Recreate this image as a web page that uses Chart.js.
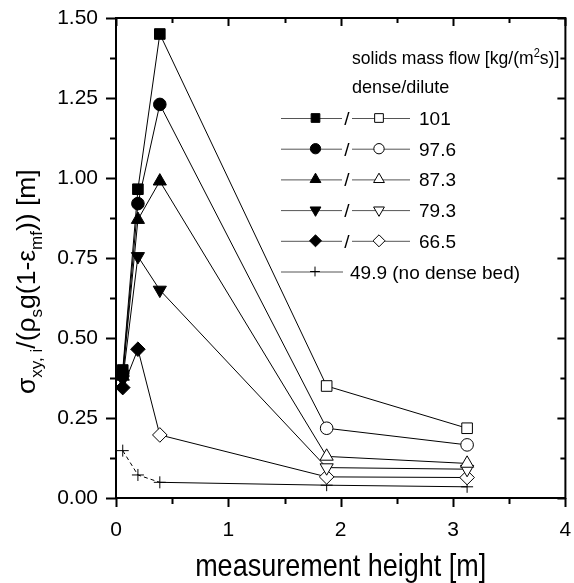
<!DOCTYPE html>
<html>
<head>
<meta charset="utf-8">
<script src="https://cdn.jsdelivr.net/npm/chart.js@4.4.1/dist/chart.umd.min.js"></script>
<style>
  html, body { margin: 0; padding: 0; background: #fff; }
  canvas { display: block; }
</style>
</head>
<body>
<canvas id="chart" width="574" height="583"></canvas>
<script>
// measurement heights [m]
const heights = [0.06, 0.195, 0.39, 1.875, 3.125];

// solids mass flow [kg/(m2 s)] for each curve
const flowLabels = ['101', '97.6', '87.3', '79.3', '66.5', '49.9 (no dense bed)'];

// sigma_xy,i / (rho_s g (1-eps_mf)) [m] at each height
const flow101 = [0.40, 0.965, 1.45, 0.35, 0.218];
const flow976 = [0.39, 0.92, 1.23, 0.218, 0.166];
const flow873 = [0.38, 0.87, 0.99, 0.13, 0.108];
const flow793 = [0.37, 0.755, 0.65, 0.095, 0.09];
const flow665 = [0.345, 0.465, 0.197, 0.066, 0.064];
const flow499 = [0.148, 0.072, 0.049, 0.04, 0.035];

// number of points (from the bottom) that are inside the dense bed
const denseCount = [3, 3, 3, 3, 2, 0];

// axis ticks
const xTicks = [0, 1, 2, 3, 4];
const yTicks = [0, 0.25, 0.5, 0.75, 1.0, 1.25, 1.5];

const FONT = "'Liberation Sans', Arial, Helvetica, sans-serif";
Chart.defaults.font.family = FONT;
Chart.defaults.color = '#000';

const seriesValues = [flow101, flow976, flow873, flow793, flow665, flow499];
const markerStyle = ['rect', 'circle', 'triangle', 'triangle', 'rectRot', 'cross'];
const markerRotation = [0, 0, 0, 180, 0, 0];
const markerRadius = [7.5, 6.3, 7.6, 7.6, 7.3, 6];

const datasets = seriesValues.map((vals, i) => ({
    label: flowLabels[i],
    data: heights.map((h, j) => ({ x: h, y: vals[j] })),
    showLine: true,
    borderColor: '#000',
    borderWidth: 1,
    pointStyle: markerStyle[i],
    rotation: markerRotation[i],
    pointRadius: markerRadius[i],
    pointHoverRadius: markerRadius[i],
    pointBorderColor: '#000',
    pointBorderWidth: 1,
    pointBackgroundColor: heights.map((h, j) => j < denseCount[i] ? '#000' : '#fff'),
    // dashed line between the points of the run without a dense bed
    segment: i === 5 ? { borderDash: ctx => ctx.p1DataIndex <= 2 ? [4, 3] : undefined } : {}
}));

// frame + inner/outer ticks like the original plot
const framePlugin = {
    id: 'frame',
    afterDatasetsDraw(chart) {
        const ctx = chart.ctx;
        const a = chart.chartArea;
        const xs = chart.scales.x, ys = chart.scales.y;
        ctx.save();
        ctx.strokeStyle = '#000';
        ctx.lineWidth = 2;
        ctx.strokeRect(a.left, a.top, a.right - a.left, a.bottom - a.top);
        ctx.beginPath();
        for (let v = xTicks[0]; v <= xTicks[xTicks.length - 1] + 1e-9; v += 0.5) {
            const major = xTicks.includes(v);
            const px = Math.round(xs.getPixelForValue(v)) + 0.5;
            ctx.moveTo(px, a.bottom); ctx.lineTo(px, a.bottom + (major ? 9 : 6));
            ctx.moveTo(px, a.top); ctx.lineTo(px, a.top + (major ? 8 : 5));
        }
        for (let v = yTicks[0]; v <= yTicks[yTicks.length - 1] + 1e-9; v += 0.125) {
            const major = yTicks.some(t => Math.abs(t - v) < 1e-9);
            const py = Math.round(ys.getPixelForValue(v)) + 0.5;
            ctx.moveTo(a.left, py); ctx.lineTo(a.left - (major ? 10 : 6), py);
            ctx.moveTo(a.right, py); ctx.lineTo(a.right - (major ? 8 : 5), py);
        }
        ctx.stroke();
        ctx.restore();
    }
};

// draws text pieces with sub/superscripts, returns end x
function drawRich(ctx, pieces, x, y, size) {
    pieces.forEach(p => {
        const s = p.sub || p.sup ? Math.round(size * 0.65) : size;
        ctx.font = s + 'px ' + FONT;
        const dy = p.sub ? size * 0.25 : (p.sup ? -size * 0.38 : 0);
        ctx.fillText(p.t, x, y + dy);
        x += ctx.measureText(p.t).width;
    });
    return x;
}

const titlePlugin = {
    id: 'titles',
    afterDraw(chart) {
        const ctx = chart.ctx;
        const a = chart.chartArea;
        ctx.save();
        ctx.fillStyle = '#000';
        ctx.textBaseline = 'alphabetic';
        // x title (original lettering is a bit taller than Arial)
        ctx.save();
        ctx.font = '27px ' + FONT;
        ctx.textAlign = 'center';
        ctx.translate((a.left + a.right) / 2, 576);
        ctx.scale(1, 1.15);
        ctx.fillText('measurement height [m]', 0, 0);
        ctx.restore();
        // y title
        ctx.textAlign = 'left';
        ctx.translate(35, 394);
        ctx.rotate(-Math.PI / 2);
        drawRich(ctx, [
            { t: 'σ' }, { t: 'xy, i', sub: true }, { t: '/(ρ' }, { t: 's', sub: true },
            { t: 'g(1-ε' }, { t: 'mf', sub: true }, { t: ')) [m]' }
        ], 0, 0, 26.5);
        ctx.restore();
    }
};

const legendPlugin = {
    id: 'customLegend',
    afterDraw(chart) {
        const ctx = chart.ctx;
        const H = Chart.helpers;
        ctx.save();
        ctx.fillStyle = '#000';
        ctx.textAlign = 'left';
        ctx.textBaseline = 'alphabetic';
        ctx.save();
        ctx.translate(352, 64);
        ctx.scale(0.925, 1);
        drawRich(ctx, [{ t: 'solids mass flow [kg/(m' }, { t: '2', sup: true }, { t: 's)]' }], 0, 0, 19);
        ctx.restore();
        ctx.save();
        ctx.translate(352, 93);
        ctx.scale(0.95, 1);
        ctx.font = '19px ' + FONT;
        ctx.fillText('dense/dilute', 0, 0);
        ctx.restore();

        chart.data.datasets.forEach((ds, i) => {
            const y = 118 + i * 30.7;
            const opts = { pointStyle: ds.pointStyle, rotation: ds.rotation, radius: ds.pointRadius * 0.82, borderWidth: 1 };
            ctx.strokeStyle = '#555';
            ctx.lineWidth = 1;
            ctx.font = '19px ' + FONT;
            if (denseCount[i] === 0) {
                ctx.beginPath();
                ctx.moveTo(281, y + 0.5); ctx.lineTo(343, y + 0.5);
                ctx.stroke();
                ctx.strokeStyle = '#000';
                ctx.fillStyle = '#000';
                H.drawPoint(ctx, opts, 315, y);
                ctx.fillText(flowLabels[i], 350, y + 7);
                return;
            }
            ctx.beginPath();
            ctx.moveTo(281, y + 0.5); ctx.lineTo(342, y + 0.5);
            ctx.moveTo(352, y + 0.5); ctx.lineTo(410, y + 0.5);
            ctx.stroke();
            ctx.strokeStyle = '#000';
            ctx.fillStyle = '#000';
            H.drawPoint(ctx, opts, 315.5, y);
            ctx.fillStyle = '#fff';
            H.drawPoint(ctx, opts, 379, y);
            ctx.fillStyle = '#000';
            ctx.textAlign = 'center';
            ctx.fillText('/', 347, y + 7);
            ctx.textAlign = 'left';
            ctx.fillText(flowLabels[i], 419, y + 7);
        });
        ctx.restore();
    }
};

new Chart(document.getElementById('chart'), {
    type: 'scatter',
    data: { datasets: datasets },
    options: {
        responsive: false,
        animation: false,
        layout: { padding: { top: 18, right: 1.5, left: 0, bottom: 0 } },
        plugins: {
            legend: { display: false },
            tooltip: { enabled: false }
        },
        scales: {
            x: {
                type: 'linear',
                min: 0,
                max: 4,
                afterBuildTicks: s => { s.ticks = xTicks.map(v => ({ value: v })); },
                grid: { display: false, drawTicks: true, tickLength: 9 },
                border: { display: false },
                ticks: { padding: 11, color: '#000', font: { size: 21 }, maxRotation: 0 },
                afterFit: s => { s.height = 85; s.paddingLeft = 0; s.paddingRight = 0; }
            },
            y: {
                type: 'linear',
                min: 0,
                max: 1.5,
                afterBuildTicks: s => { s.ticks = yTicks.map(v => ({ value: v })); },
                grid: { display: false, drawTicks: true, tickLength: 10 },
                border: { display: false },
                ticks: { padding: 8, color: '#000', font: { size: 21 }, callback: v => v.toFixed(2) },
                afterFit: s => { s.width = 116; s.paddingTop = 0; s.paddingBottom = 0; }
            }
        }
    },
    plugins: [framePlugin, titlePlugin, legendPlugin]
});
</script>
</body>
</html>
